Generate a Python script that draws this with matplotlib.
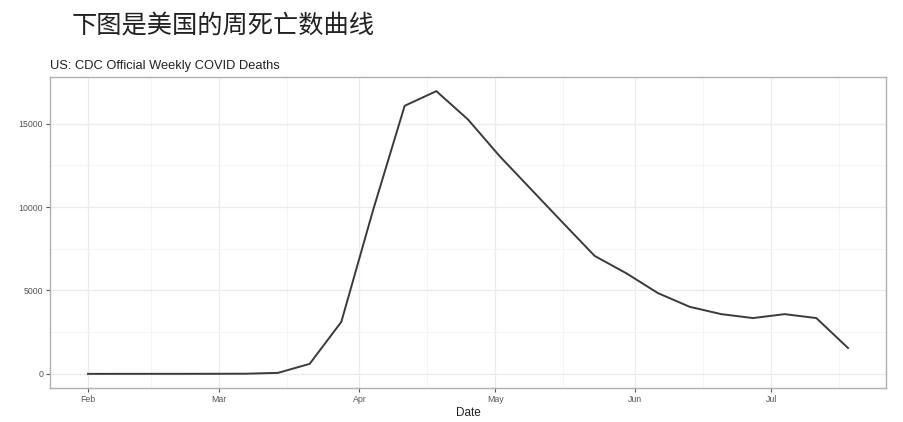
import matplotlib
matplotlib.use("Agg")
import matplotlib.pyplot as plt
import matplotlib.dates as mdates
import numpy as np
import pandas as pd

# ---- data ----
week_ending = pd.date_range("2020-02-01", "2020-07-18", freq="7D")
deaths = [0, 1, 2, 3, 5, 10, 60, 600, 3120, 9800, 16070, 16950, 15250,
          13050, 11050, 9050, 7070, 6030, 4840, 4020, 3580, 3345, 3580, 3345, 1550]
month_ticks = pd.to_datetime(["2020-02-01", "2020-03-01", "2020-04-01",
                              "2020-05-01", "2020-06-01", "2020-07-01"])
month_labels = ["Feb", "Mar", "Apr", "May", "Jun", "Jul"]
minor_ticks = pd.to_datetime(["2020-02-15", "2020-03-16", "2020-04-16",
                              "2020-05-16", "2020-06-16", "2020-07-16"])
y_ticks = [0, 5000, 10000, 15000]
y_minor = [2500, 7500, 12500]

plt.rcParams['font.family'] = ['Liberation Sans', 'DejaVu Sans']

W, H = 904, 422
fig = plt.figure(figsize=(W / 100, H / 100), dpi=100)
fig.patch.set_facecolor("white")

ax = fig.add_axes([50 / W, 1 - 388 / H, (886 - 50) / W, (388 - 77) / H])

x = mdates.date2num(week_ending)
ax.plot(x, deaths, color="#3a3a3a", lw=1.4, zorder=3)

# limits with ggplot-style 5% expansion
xr = x.max() - x.min()
ax.set_xlim(x.min() - 0.05 * xr, x.max() + 0.05 * xr)
yr = max(deaths) - min(deaths)
ax.set_ylim(min(deaths) - 0.05 * yr, max(deaths) + 0.05 * yr)

ax.set_xticks(mdates.date2num(month_ticks))
ax.set_xticklabels(month_labels)
ax.set_xticks(mdates.date2num(minor_ticks), minor=True)
ax.set_yticks(y_ticks)
ax.set_yticklabels([str(v) for v in y_ticks])
ax.set_yticks(y_minor, minor=True)

ax.grid(which="major", color="#ebebeb", lw=0.9, zorder=0)
ax.grid(which="minor", color="#f4f4f4", lw=0.6, zorder=0)
ax.set_axisbelow(True)

for s in ax.spines.values():
    s.set_color("#b0b0b0")
    s.set_linewidth(1.0)

ax.tick_params(which="major", length=3, width=0.8, color="#555555",
               labelsize=6.3, labelcolor="#555555", pad=2)
ax.tick_params(which="minor", length=0)

ax.set_xlabel("Date", fontsize=8.5, color="#222222", labelpad=2)

fig.text(72 / W, 1 - 26 / H, "下图是美国的周死亡数曲线",
         fontsize=18.2, color="#222222", va="center", ha="left",
         family=['Noto Sans CJK SC', 'DejaVu Sans'])
fig.text(50 / W, 1 - 66 / H, "US: CDC Official Weekly COVID Deaths",
         fontsize=9.3, color="#222222", va="center", ha="left")

fig.savefig("out.png", dpi=100)
